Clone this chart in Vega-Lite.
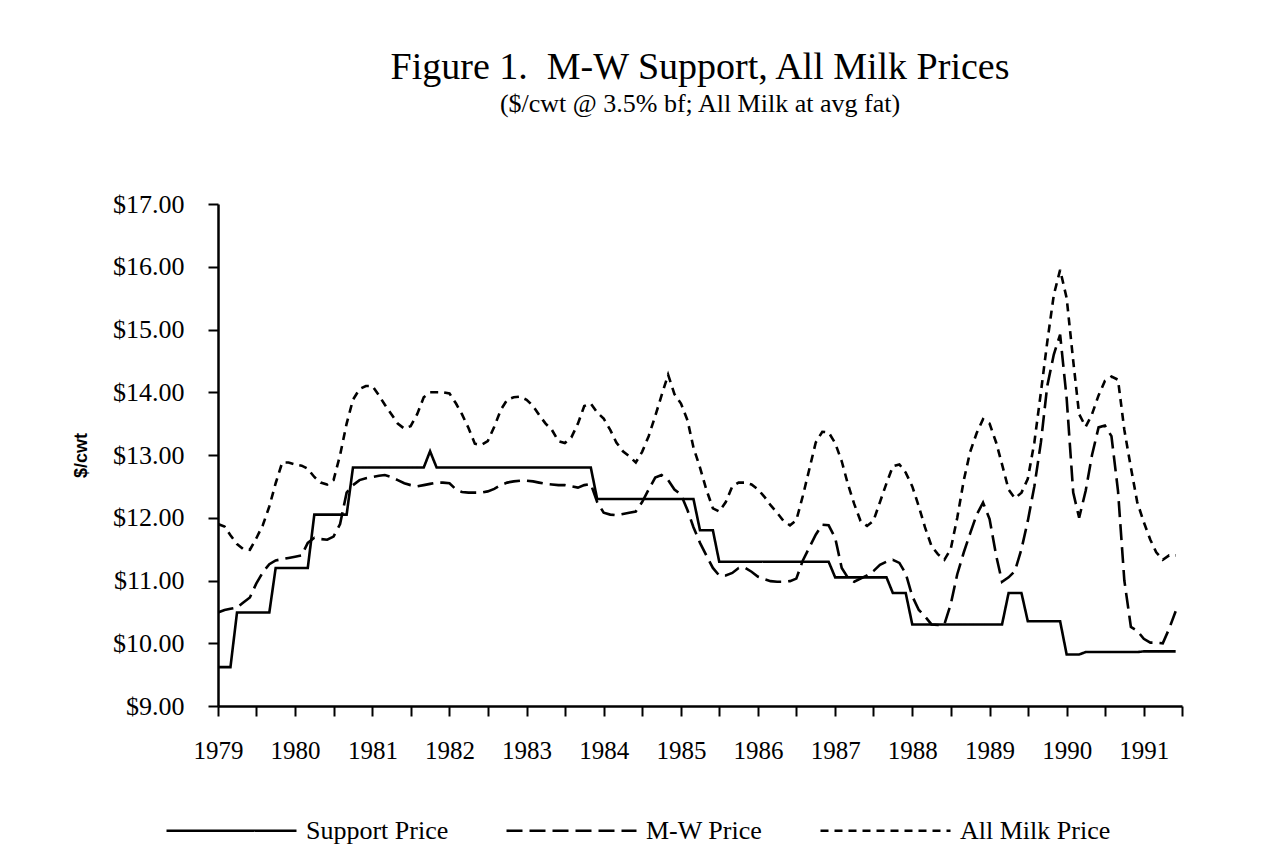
{
  "$schema": "https://vega.github.io/schema/vega-lite/v6.json",
  "width": 964,
  "height": 502,
  "autosize": {"type": "none"},
  "padding": {"left": 218, "top": 204, "right": 80, "bottom": 151},
  "background": "white",
  "title": {
    "text": "Figure 1.\u00a0 M-W Support, All Milk Prices",
    "subtitle": "($/cwt @ 3.5% bf; All Milk at avg fat)",
    "anchor": "middle",
    "font": "Liberation Serif",
    "fontSize": 38,
    "fontWeight": "normal",
    "color": "black",
    "subtitleFont": "Liberation Serif",
    "subtitleFontSize": 26,
    "subtitleColor": "black",
    "subtitlePadding": 4,
    "offset": 74
  },
  "data": {
    "values": [
      {"d": "1979-01-01", "Support Price": 9.62, "M-W Price": 10.49, "All Milk Price": 11.90},
      {"d": "1979-02-01", "Support Price": 9.62, "M-W Price": 10.53, "All Milk Price": 11.86},
      {"d": "1979-03-01", "Support Price": 9.62, "M-W Price": 10.55, "All Milk Price": 11.72},
      {"d": "1979-04-01", "Support Price": 10.49, "M-W Price": 10.57, "All Milk Price": 11.58},
      {"d": "1979-05-01", "Support Price": 10.49, "M-W Price": 10.65, "All Milk Price": 11.50},
      {"d": "1979-06-01", "Support Price": 10.49, "M-W Price": 10.73, "All Milk Price": 11.49},
      {"d": "1979-07-01", "Support Price": 10.49, "M-W Price": 10.95, "All Milk Price": 11.67},
      {"d": "1979-08-01", "Support Price": 10.49, "M-W Price": 11.13, "All Milk Price": 11.88},
      {"d": "1979-09-01", "Support Price": 10.49, "M-W Price": 11.26, "All Milk Price": 12.18},
      {"d": "1979-10-01", "Support Price": 11.20, "M-W Price": 11.32, "All Milk Price": 12.55},
      {"d": "1979-11-01", "Support Price": 11.20, "M-W Price": 11.34, "All Milk Price": 12.88},
      {"d": "1979-12-01", "Support Price": 11.20, "M-W Price": 11.36, "All Milk Price": 12.88},
      {"d": "1980-01-01", "Support Price": 11.20, "M-W Price": 11.38, "All Milk Price": 12.85},
      {"d": "1980-02-01", "Support Price": 11.20, "M-W Price": 11.40, "All Milk Price": 12.83},
      {"d": "1980-03-01", "Support Price": 11.20, "M-W Price": 11.60, "All Milk Price": 12.78},
      {"d": "1980-04-01", "Support Price": 12.05, "M-W Price": 11.68, "All Milk Price": 12.65},
      {"d": "1980-05-01", "Support Price": 12.05, "M-W Price": 11.66, "All Milk Price": 12.56},
      {"d": "1980-06-01", "Support Price": 12.05, "M-W Price": 11.65, "All Milk Price": 12.53},
      {"d": "1980-07-01", "Support Price": 12.05, "M-W Price": 11.70, "All Milk Price": 12.60},
      {"d": "1980-08-01", "Support Price": 12.05, "M-W Price": 11.90, "All Milk Price": 13.00},
      {"d": "1980-09-01", "Support Price": 12.05, "M-W Price": 12.40, "All Milk Price": 13.50},
      {"d": "1980-10-01", "Support Price": 12.80, "M-W Price": 12.52, "All Milk Price": 13.88},
      {"d": "1980-11-01", "Support Price": 12.80, "M-W Price": 12.60, "All Milk Price": 14.05},
      {"d": "1980-12-01", "Support Price": 12.80, "M-W Price": 12.63, "All Milk Price": 14.10},
      {"d": "1981-01-01", "Support Price": 12.80, "M-W Price": 12.65, "All Milk Price": 14.10},
      {"d": "1981-02-01", "Support Price": 12.80, "M-W Price": 12.67, "All Milk Price": 13.95},
      {"d": "1981-03-01", "Support Price": 12.80, "M-W Price": 12.68, "All Milk Price": 13.80},
      {"d": "1981-04-01", "Support Price": 12.80, "M-W Price": 12.65, "All Milk Price": 13.65},
      {"d": "1981-05-01", "Support Price": 12.80, "M-W Price": 12.60, "All Milk Price": 13.50},
      {"d": "1981-06-01", "Support Price": 12.80, "M-W Price": 12.55, "All Milk Price": 13.42},
      {"d": "1981-07-01", "Support Price": 12.80, "M-W Price": 12.52, "All Milk Price": 13.46},
      {"d": "1981-08-01", "Support Price": 12.80, "M-W Price": 12.50, "All Milk Price": 13.65},
      {"d": "1981-09-01", "Support Price": 12.80, "M-W Price": 12.52, "All Milk Price": 13.92},
      {"d": "1981-10-01", "Support Price": 13.06, "M-W Price": 12.54, "All Milk Price": 14.00},
      {"d": "1981-11-01", "Support Price": 12.80, "M-W Price": 12.56, "All Milk Price": 14.00},
      {"d": "1981-12-01", "Support Price": 12.80, "M-W Price": 12.56, "All Milk Price": 14.00},
      {"d": "1982-01-01", "Support Price": 12.80, "M-W Price": 12.55, "All Milk Price": 13.98},
      {"d": "1982-02-01", "Support Price": 12.80, "M-W Price": 12.45, "All Milk Price": 13.82},
      {"d": "1982-03-01", "Support Price": 12.80, "M-W Price": 12.41, "All Milk Price": 13.65},
      {"d": "1982-04-01", "Support Price": 12.80, "M-W Price": 12.40, "All Milk Price": 13.43},
      {"d": "1982-05-01", "Support Price": 12.80, "M-W Price": 12.40, "All Milk Price": 13.18},
      {"d": "1982-06-01", "Support Price": 12.80, "M-W Price": 12.40, "All Milk Price": 13.16},
      {"d": "1982-07-01", "Support Price": 12.80, "M-W Price": 12.42, "All Milk Price": 13.22},
      {"d": "1982-08-01", "Support Price": 12.80, "M-W Price": 12.46, "All Milk Price": 13.45},
      {"d": "1982-09-01", "Support Price": 12.80, "M-W Price": 12.52, "All Milk Price": 13.72},
      {"d": "1982-10-01", "Support Price": 12.80, "M-W Price": 12.56, "All Milk Price": 13.88},
      {"d": "1982-11-01", "Support Price": 12.80, "M-W Price": 12.58, "All Milk Price": 13.92},
      {"d": "1982-12-01", "Support Price": 12.80, "M-W Price": 12.59, "All Milk Price": 13.93},
      {"d": "1983-01-01", "Support Price": 12.80, "M-W Price": 12.59, "All Milk Price": 13.88},
      {"d": "1983-02-01", "Support Price": 12.80, "M-W Price": 12.58, "All Milk Price": 13.78},
      {"d": "1983-03-01", "Support Price": 12.80, "M-W Price": 12.56, "All Milk Price": 13.64},
      {"d": "1983-04-01", "Support Price": 12.80, "M-W Price": 12.54, "All Milk Price": 13.50},
      {"d": "1983-05-01", "Support Price": 12.80, "M-W Price": 12.53, "All Milk Price": 13.40},
      {"d": "1983-06-01", "Support Price": 12.80, "M-W Price": 12.52, "All Milk Price": 13.22},
      {"d": "1983-07-01", "Support Price": 12.80, "M-W Price": 12.52, "All Milk Price": 13.19},
      {"d": "1983-08-01", "Support Price": 12.80, "M-W Price": 12.50, "All Milk Price": 13.28},
      {"d": "1983-09-01", "Support Price": 12.80, "M-W Price": 12.48, "All Milk Price": 13.50},
      {"d": "1983-10-01", "Support Price": 12.80, "M-W Price": 12.52, "All Milk Price": 13.78},
      {"d": "1983-11-01", "Support Price": 12.80, "M-W Price": 12.54, "All Milk Price": 13.82},
      {"d": "1983-12-01", "Support Price": 12.30, "M-W Price": 12.25, "All Milk Price": 13.68},
      {"d": "1984-01-01", "Support Price": 12.30, "M-W Price": 12.08, "All Milk Price": 13.58},
      {"d": "1984-02-01", "Support Price": 12.30, "M-W Price": 12.05, "All Milk Price": 13.40},
      {"d": "1984-03-01", "Support Price": 12.30, "M-W Price": 12.04, "All Milk Price": 13.20},
      {"d": "1984-04-01", "Support Price": 12.30, "M-W Price": 12.06, "All Milk Price": 13.06},
      {"d": "1984-05-01", "Support Price": 12.30, "M-W Price": 12.08, "All Milk Price": 12.98},
      {"d": "1984-06-01", "Support Price": 12.30, "M-W Price": 12.10, "All Milk Price": 12.88},
      {"d": "1984-07-01", "Support Price": 12.30, "M-W Price": 12.25, "All Milk Price": 13.05},
      {"d": "1984-08-01", "Support Price": 12.30, "M-W Price": 12.45, "All Milk Price": 13.30},
      {"d": "1984-09-01", "Support Price": 12.30, "M-W Price": 12.64, "All Milk Price": 13.62},
      {"d": "1984-10-01", "Support Price": 12.30, "M-W Price": 12.68, "All Milk Price": 13.95},
      {"d": "1984-11-01", "Support Price": 12.30, "M-W Price": 12.60, "All Milk Price": 14.28},
      {"d": "1984-12-01", "Support Price": 12.30, "M-W Price": 12.45, "All Milk Price": 13.97},
      {"d": "1985-01-01", "Support Price": 12.30, "M-W Price": 12.37, "All Milk Price": 13.82},
      {"d": "1985-02-01", "Support Price": 12.30, "M-W Price": 12.12, "All Milk Price": 13.55},
      {"d": "1985-03-01", "Support Price": 12.30, "M-W Price": 11.85, "All Milk Price": 13.12},
      {"d": "1985-04-01", "Support Price": 11.80, "M-W Price": 11.60, "All Milk Price": 12.80},
      {"d": "1985-05-01", "Support Price": 11.80, "M-W Price": 11.40, "All Milk Price": 12.45},
      {"d": "1985-06-01", "Support Price": 11.80, "M-W Price": 11.20, "All Milk Price": 12.15},
      {"d": "1985-07-01", "Support Price": 11.30, "M-W Price": 11.08, "All Milk Price": 12.10},
      {"d": "1985-08-01", "Support Price": 11.30, "M-W Price": 11.08, "All Milk Price": 12.25},
      {"d": "1985-09-01", "Support Price": 11.30, "M-W Price": 11.12, "All Milk Price": 12.50},
      {"d": "1985-10-01", "Support Price": 11.30, "M-W Price": 11.20, "All Milk Price": 12.56},
      {"d": "1985-11-01", "Support Price": 11.30, "M-W Price": 11.20, "All Milk Price": 12.56},
      {"d": "1985-12-01", "Support Price": 11.30, "M-W Price": 11.14, "All Milk Price": 12.53},
      {"d": "1986-01-01", "Support Price": 11.30, "M-W Price": 11.06, "All Milk Price": 12.45},
      {"d": "1986-02-01", "Support Price": 11.30, "M-W Price": 11.02, "All Milk Price": 12.33},
      {"d": "1986-03-01", "Support Price": 11.30, "M-W Price": 10.99, "All Milk Price": 12.20},
      {"d": "1986-04-01", "Support Price": 11.30, "M-W Price": 10.98, "All Milk Price": 12.08},
      {"d": "1986-05-01", "Support Price": 11.30, "M-W Price": 10.98, "All Milk Price": 11.95},
      {"d": "1986-06-01", "Support Price": 11.30, "M-W Price": 10.99, "All Milk Price": 11.88},
      {"d": "1986-07-01", "Support Price": 11.30, "M-W Price": 11.03, "All Milk Price": 11.96},
      {"d": "1986-08-01", "Support Price": 11.30, "M-W Price": 11.32, "All Milk Price": 12.35},
      {"d": "1986-09-01", "Support Price": 11.30, "M-W Price": 11.53, "All Milk Price": 12.78},
      {"d": "1986-10-01", "Support Price": 11.30, "M-W Price": 11.73, "All Milk Price": 13.20},
      {"d": "1986-11-01", "Support Price": 11.30, "M-W Price": 11.89, "All Milk Price": 13.37},
      {"d": "1986-12-01", "Support Price": 11.30, "M-W Price": 11.88, "All Milk Price": 13.36},
      {"d": "1987-01-01", "Support Price": 11.05, "M-W Price": 11.68, "All Milk Price": 13.19},
      {"d": "1987-02-01", "Support Price": 11.05, "M-W Price": 11.20, "All Milk Price": 12.90},
      {"d": "1987-03-01", "Support Price": 11.05, "M-W Price": 11.05, "All Milk Price": 12.55},
      {"d": "1987-04-01", "Support Price": 11.05, "M-W Price": 10.98, "All Milk Price": 12.22},
      {"d": "1987-05-01", "Support Price": 11.05, "M-W Price": 11.03, "All Milk Price": 11.95},
      {"d": "1987-06-01", "Support Price": 11.05, "M-W Price": 11.08, "All Milk Price": 11.87},
      {"d": "1987-07-01", "Support Price": 11.05, "M-W Price": 11.15, "All Milk Price": 11.95},
      {"d": "1987-08-01", "Support Price": 11.05, "M-W Price": 11.25, "All Milk Price": 12.25},
      {"d": "1987-09-01", "Support Price": 11.05, "M-W Price": 11.30, "All Milk Price": 12.55},
      {"d": "1987-10-01", "Support Price": 10.80, "M-W Price": 11.33, "All Milk Price": 12.82},
      {"d": "1987-11-01", "Support Price": 10.80, "M-W Price": 11.28, "All Milk Price": 12.85},
      {"d": "1987-12-01", "Support Price": 10.80, "M-W Price": 11.11, "All Milk Price": 12.72},
      {"d": "1988-01-01", "Support Price": 10.30, "M-W Price": 10.75, "All Milk Price": 12.50},
      {"d": "1988-02-01", "Support Price": 10.30, "M-W Price": 10.53, "All Milk Price": 12.18},
      {"d": "1988-03-01", "Support Price": 10.30, "M-W Price": 10.43, "All Milk Price": 11.85},
      {"d": "1988-04-01", "Support Price": 10.30, "M-W Price": 10.30, "All Milk Price": 11.55},
      {"d": "1988-05-01", "Support Price": 10.30, "M-W Price": 10.29, "All Milk Price": 11.42},
      {"d": "1988-06-01", "Support Price": 10.30, "M-W Price": 10.30, "All Milk Price": 11.33},
      {"d": "1988-07-01", "Support Price": 10.30, "M-W Price": 10.62, "All Milk Price": 11.50},
      {"d": "1988-08-01", "Support Price": 10.30, "M-W Price": 11.10, "All Milk Price": 12.00},
      {"d": "1988-09-01", "Support Price": 10.30, "M-W Price": 11.45, "All Milk Price": 12.60},
      {"d": "1988-10-01", "Support Price": 10.30, "M-W Price": 11.75, "All Milk Price": 13.05},
      {"d": "1988-11-01", "Support Price": 10.30, "M-W Price": 12.05, "All Milk Price": 13.35},
      {"d": "1988-12-01", "Support Price": 10.30, "M-W Price": 12.24, "All Milk Price": 13.57},
      {"d": "1989-01-01", "Support Price": 10.30, "M-W Price": 11.98, "All Milk Price": 13.50},
      {"d": "1989-02-01", "Support Price": 10.30, "M-W Price": 11.40, "All Milk Price": 13.20},
      {"d": "1989-03-01", "Support Price": 10.30, "M-W Price": 10.98, "All Milk Price": 12.85},
      {"d": "1989-04-01", "Support Price": 10.80, "M-W Price": 11.05, "All Milk Price": 12.45},
      {"d": "1989-05-01", "Support Price": 10.80, "M-W Price": 11.15, "All Milk Price": 12.31},
      {"d": "1989-06-01", "Support Price": 10.80, "M-W Price": 11.50, "All Milk Price": 12.40},
      {"d": "1989-07-01", "Support Price": 10.35, "M-W Price": 11.95, "All Milk Price": 12.62},
      {"d": "1989-08-01", "Support Price": 10.35, "M-W Price": 12.50, "All Milk Price": 13.20},
      {"d": "1989-09-01", "Support Price": 10.35, "M-W Price": 13.20, "All Milk Price": 14.00},
      {"d": "1989-10-01", "Support Price": 10.35, "M-W Price": 14.10, "All Milk Price": 14.80},
      {"d": "1989-11-01", "Support Price": 10.35, "M-W Price": 14.60, "All Milk Price": 15.55},
      {"d": "1989-12-01", "Support Price": 10.35, "M-W Price": 14.92, "All Milk Price": 15.95},
      {"d": "1990-01-01", "Support Price": 9.82, "M-W Price": 13.90, "All Milk Price": 15.50},
      {"d": "1990-02-01", "Support Price": 9.82, "M-W Price": 12.40, "All Milk Price": 14.50},
      {"d": "1990-03-01", "Support Price": 9.82, "M-W Price": 12.00, "All Milk Price": 13.65},
      {"d": "1990-04-01", "Support Price": 9.86, "M-W Price": 12.43, "All Milk Price": 13.45},
      {"d": "1990-05-01", "Support Price": 9.86, "M-W Price": 13.00, "All Milk Price": 13.65},
      {"d": "1990-06-01", "Support Price": 9.86, "M-W Price": 13.44, "All Milk Price": 13.95},
      {"d": "1990-07-01", "Support Price": 9.86, "M-W Price": 13.47, "All Milk Price": 14.18},
      {"d": "1990-08-01", "Support Price": 9.86, "M-W Price": 13.30, "All Milk Price": 14.25},
      {"d": "1990-09-01", "Support Price": 9.86, "M-W Price": 12.43, "All Milk Price": 14.20},
      {"d": "1990-10-01", "Support Price": 9.86, "M-W Price": 11.00, "All Milk Price": 13.40},
      {"d": "1990-11-01", "Support Price": 9.86, "M-W Price": 10.26, "All Milk Price": 12.80},
      {"d": "1990-12-01", "Support Price": 9.86, "M-W Price": 10.20, "All Milk Price": 12.25},
      {"d": "1991-01-01", "Support Price": 9.87, "M-W Price": 10.07, "All Milk Price": 11.93},
      {"d": "1991-02-01", "Support Price": 9.87, "M-W Price": 10.01, "All Milk Price": 11.65},
      {"d": "1991-03-01", "Support Price": 9.87, "M-W Price": 10.01, "All Milk Price": 11.45},
      {"d": "1991-04-01", "Support Price": 9.87, "M-W Price": 10.00, "All Milk Price": 11.33},
      {"d": "1991-05-01", "Support Price": 9.87, "M-W Price": 10.23, "All Milk Price": 11.40},
      {"d": "1991-06-01", "Support Price": 9.87, "M-W Price": 10.51, "All Milk Price": 11.40}
    ]
  },
  "transform": [
    {"fold": ["Support Price", "M-W Price", "All Milk Price"], "as": ["series", "price"]}
  ],
  "mark": {"type": "line", "color": "black", "strokeWidth": 2.6, "clip": true},
  "encoding": {
    "x": {
      "field": "d",
      "type": "temporal",
      "scale": {"type": "utc", "domain": ["1979-01-01", "1991-07-01"]},
      "axis": {
        "title": null,
        "tickCount": {"interval": "month", "step": 6},
        "labelExpr": "utcFormat(datum.value, '%m') == '01' ? utcFormat(datum.value, '%Y') : ''",
        "labelPadding": 22,
        "labelOverlap": false,
        "labelFlush": false
      }
    },
    "y": {
      "field": "price",
      "type": "quantitative",
      "scale": {"domain": [9, 17], "nice": false, "zero": false},
      "axis": {
        "title": "$/cwt",
        "values": [9, 10, 11, 12, 13, 14, 15, 16, 17],
        "format": "$.2f",
        "labelPadding": 24,
        "labelFontSize": 26,
        "titleFont": "Liberation Sans",
        "titleFontSize": 18,
        "titleFontWeight": "bold",
        "titlePadding": 22,
        "titleColor": "black"
      }
    },
    "strokeDash": {
      "field": "series",
      "type": "nominal",
      "sort": ["Support Price", "M-W Price", "All Milk Price"],
      "scale": {
        "domain": ["Support Price", "M-W Price", "All Milk Price"],
        "range": [[1, 0], [16, 7], [8, 6]]
      },
      "legend": {
        "title": null,
        "orient": "none",
        "legendX": -53,
        "legendY": 560,
        "direction": "horizontal",
        "symbolType": "stroke",
        "symbolSize": 16900,
        "symbolStrokeWidth": 2.6,
        "symbolStrokeColor": "black",
        "labelFont": "Liberation Serif",
        "labelFontSize": 26,
        "labelColor": "black",
        "labelOffset": 8,
        "labelLimit": 400,
        "columnPadding": 52
      }
    }
  },
  "config": {
    "view": {"stroke": null},
    "axis": {
      "grid": false,
      "domainColor": "black",
      "domainWidth": 2.5,
      "tickColor": "black",
      "tickWidth": 2,
      "tickSize": 10,
      "labelFont": "Liberation Serif",
      "labelFontSize": 25,
      "labelColor": "black"
    }
  }
}
